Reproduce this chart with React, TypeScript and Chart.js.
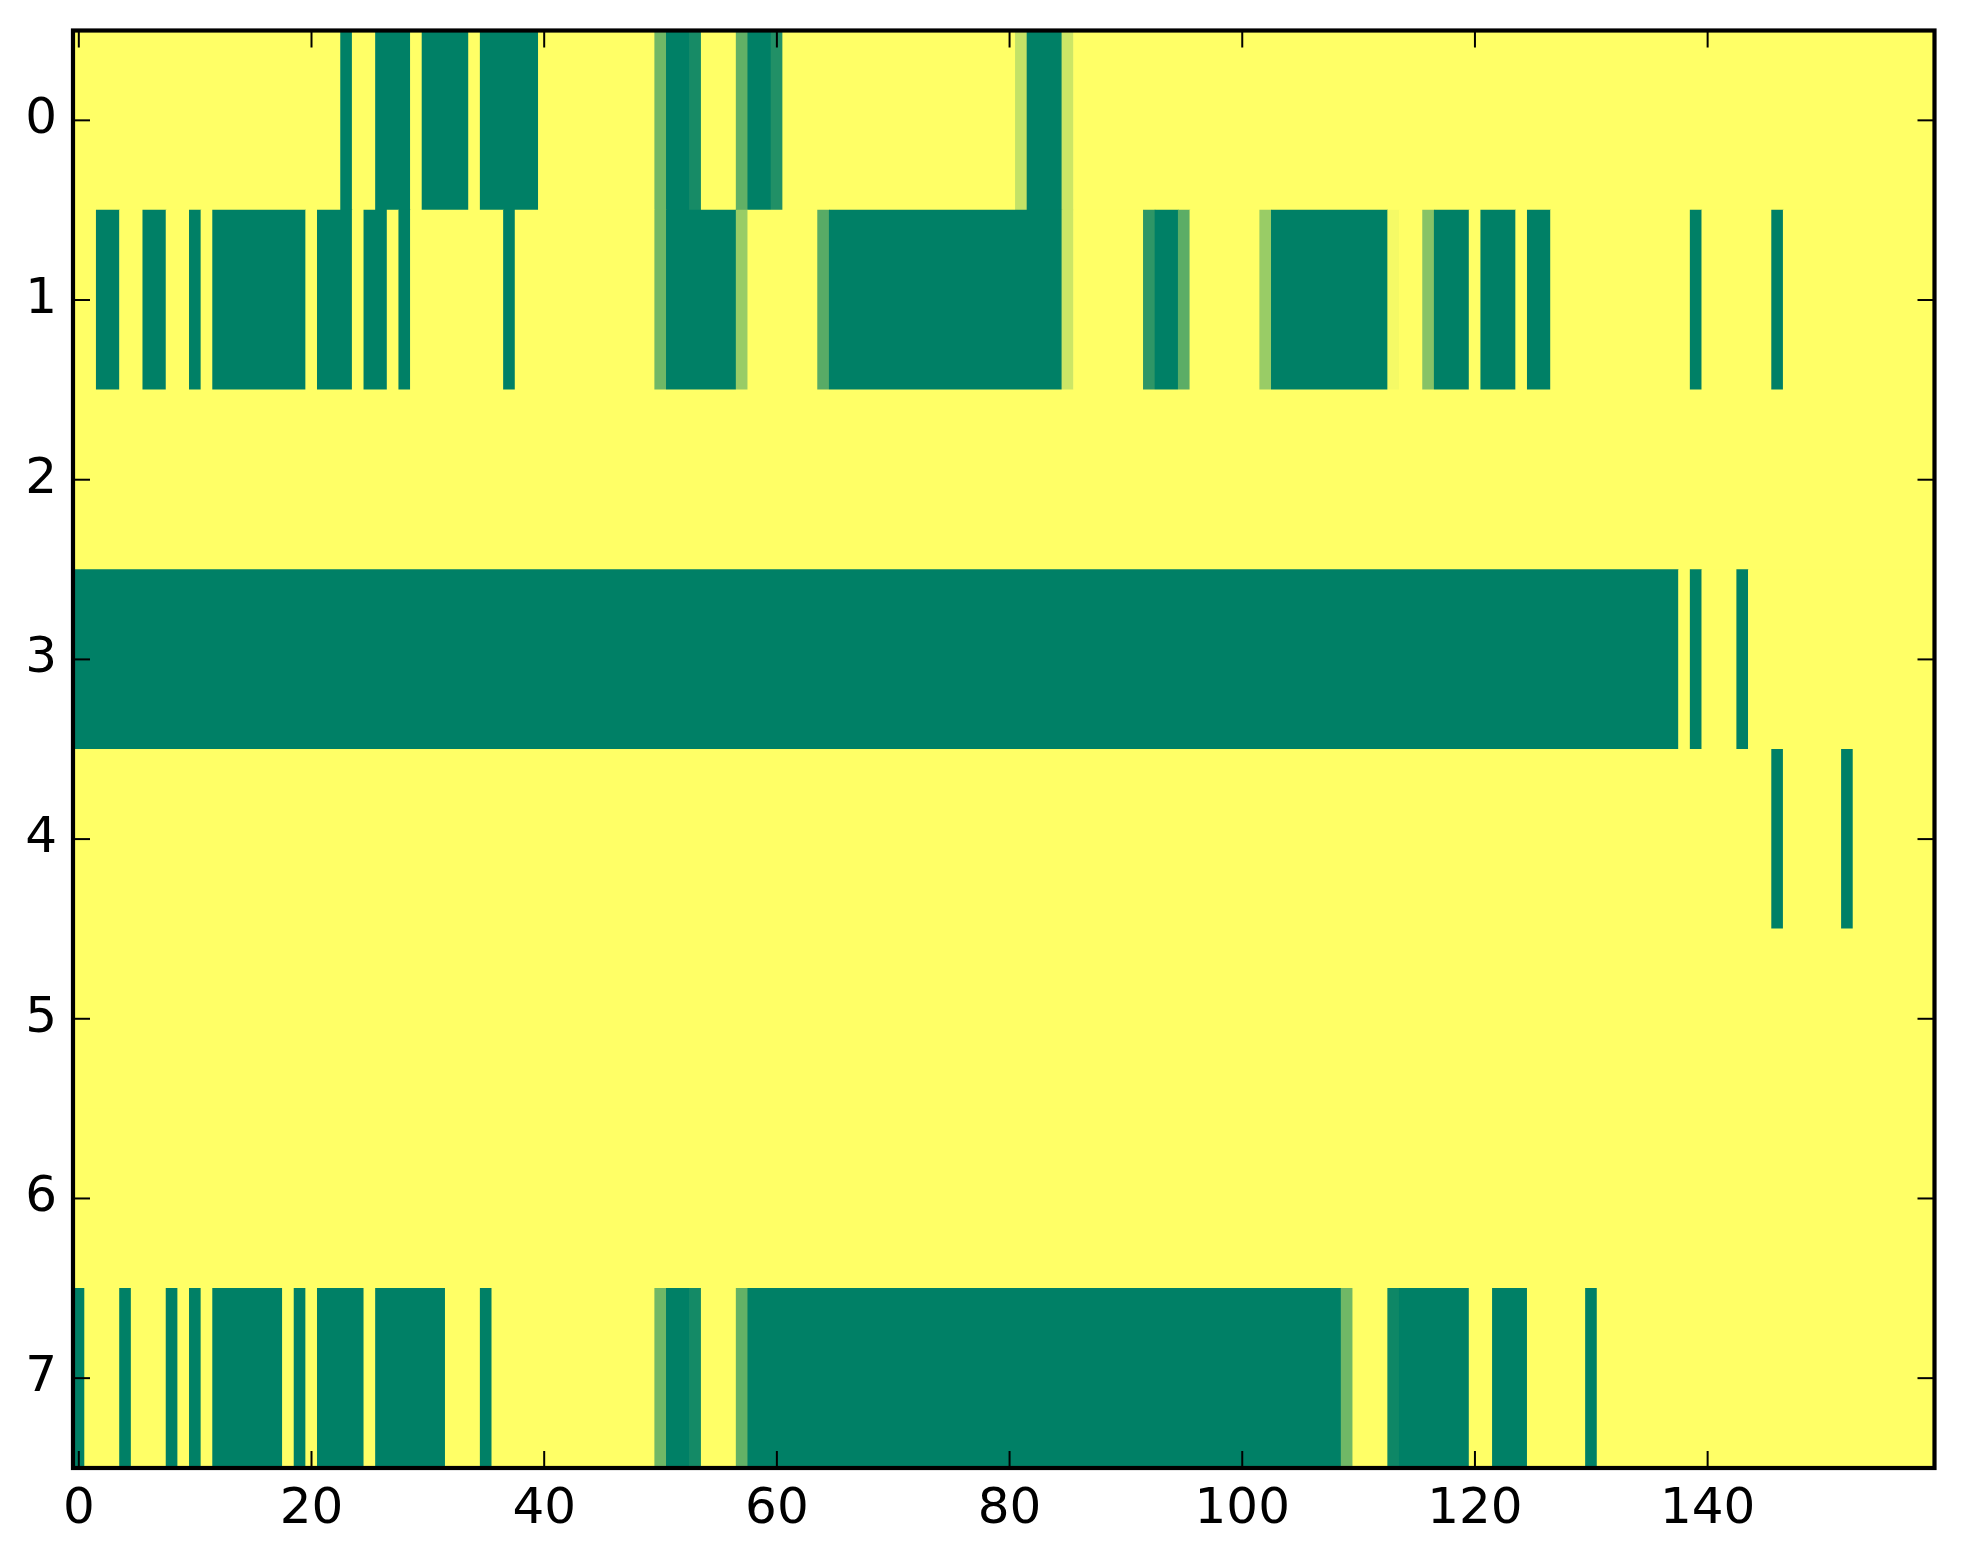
import { useEffect, useRef } from 'react';
import { Chart, registerables } from 'chart.js';

Chart.register(...registerables);

// Row labels (y axis, top to bottom) and x tick values
const rowLabels = ['0', '1', '2', '3', '4', '5', '6', '7'];
const xTickValues = [0, 20, 40, 60, 80, 100, 120, 140];
const columnCount = 160;

// Each row as runs of [number of columns, value] (value 0 = green, 1 = yellow, "summer" colormap)
const row0Runs: [number, number][] = [
  [23, 1], [1, 0], [2, 1], [3, 0], [1, 1], [4, 0], [1, 1], [5, 0], [10, 1],
  [1, 0.44], [2, 0], [1, 0.09], [3, 1], [1, 0.38], [2, 0], [1, 0.13], [20, 1],
  [1, 0.77], [3, 0], [1, 0.8], [74, 1],
];
const row1Runs: [number, number][] = [
  [2, 1], [2, 0], [2, 1], [2, 0], [2, 1], [1, 0], [1, 1], [8, 0], [1, 1], [3, 0],
  [1, 1], [2, 0], [1, 1], [1, 0], [8, 1], [1, 0], [12, 1], [1, 0.44], [6, 0],
  [1, 0.6], [6, 1], [1, 0.345], [20, 0], [1, 0.8], [6, 1], [1, 0.18], [2, 0],
  [1, 0.36], [6, 1], [1, 0.6], [10, 0], [1, 0.96], [2, 1], [1, 0.53], [3, 0],
  [1, 1], [3, 0], [1, 1], [2, 0], [12, 1], [1, 0], [6, 1], [1, 0], [13, 1],
];
const row2Runs: [number, number][] = [[160, 1]];
const row3Runs: [number, number][] = [[138, 0], [1, 1], [1, 0], [3, 1], [1, 0], [16, 1]];
const row4Runs: [number, number][] = [[146, 1], [1, 0], [5, 1], [1, 0], [7, 1]];
const row5Runs: [number, number][] = [[160, 1]];
const row6Runs: [number, number][] = [[160, 1]];
const row7Runs: [number, number][] = [
  [1, 0], [3, 1], [1, 0], [3, 1], [1, 0], [1, 1], [1, 0], [1, 1], [6, 0], [1, 1],
  [1, 0], [1, 1], [4, 0], [1, 1], [6, 0], [3, 1], [1, 0], [14, 1], [1, 0.44],
  [2, 0], [1, 0.08], [3, 1], [1, 0.39], [51, 0], [1, 0.44], [3, 1], [1, 0.055],
  [6, 0], [2, 1], [3, 0], [5, 1], [1, 0], [29, 1],
];
const rowRuns = [row0Runs, row1Runs, row2Runs, row3Runs, row4Runs, row5Runs, row6Runs, row7Runs];

function summer(t: number): string {
  const r = Math.round(255 * t);
  const g = Math.round(127.5 + 127.5 * t);
  return `rgb(${r}, ${g}, 102)`;
}

const framePlugin = {
  id: 'mplFrame',
  afterDatasetsDraw(chart: any) {
    const { ctx, chartArea: a, scales } = chart;
    const L = 17;
    ctx.save();
    ctx.strokeStyle = '#000';
    ctx.lineWidth = 2;
    const line = (x1: number, y1: number, x2: number, y2: number) => {
      ctx.beginPath();
      ctx.moveTo(x1, y1);
      ctx.lineTo(x2, y2);
      ctx.stroke();
    };
    scales.x.ticks.forEach((_t: any, i: number) => {
      const px = scales.x.getPixelForTick(i);
      line(px, a.bottom, px, a.bottom - L);
      line(px, a.top, px, a.top + L);
    });
    scales.y.ticks.forEach((_t: any, i: number) => {
      const py = scales.y.getPixelForTick(i);
      line(a.left, py, a.left + L, py);
      line(a.right, py, a.right - L, py);
    });
    ctx.lineWidth = 4.2;
    ctx.strokeRect(a.left, a.top, a.right - a.left, a.bottom - a.top);
    ctx.restore();
  },
};

export default function App() {
  const canvasRef = useRef<HTMLCanvasElement | null>(null);

  useEffect(() => {
    document.body.style.margin = '0';
    document.body.style.overflow = 'hidden';
    const canvas = canvasRef.current;
    if (!canvas) return;

    const data: { x: [number, number]; y: string }[] = [];
    const colors: string[] = [];
    rowRuns.forEach((runs, r) => {
      let c = 0;
      runs.forEach(([len, val]) => {
        data.push({ x: [c - 0.5, c + len - 0.5], y: rowLabels[r] });
        colors.push(summer(val));
        c += len;
      });
    });

    const xFont = { family: "'DejaVu Sans', sans-serif", size: 50 };
    const yFont = { family: "'DejaVu Sans', sans-serif", size: 50, lineHeight: 0.1 };

    const chart = new Chart(canvas, {
      type: 'bar',
      data: {
        labels: rowLabels,
        datasets: [
          {
            data: data as any,
            backgroundColor: colors,
            borderWidth: 0,
            barPercentage: 1,
            categoryPercentage: 1,
          },
        ],
      },
      options: {
        indexAxis: 'y',
        animation: false,
        responsive: false,
        devicePixelRatio: 1,
        layout: { padding: { left: 0, right: 28.5, top: 30.5, bottom: 0 } },
        plugins: { legend: { display: false }, tooltip: { enabled: false } },
        scales: {
          x: {
            type: 'linear',
            position: 'bottom',
            min: -0.5,
            max: columnCount - 0.5,
            grid: { display: false, drawTicks: false },
            border: { display: false },
            ticks: { font: xFont, color: '#000', padding: 12, autoSkip: false, maxRotation: 0 },
            afterBuildTicks: (s: any) => {
              s.ticks = xTickValues.map((v) => ({ value: v }));
            },
            afterFit: (s: any) => {
              s.height = 96;
            },
          },
          y: {
            type: 'category',
            labels: rowLabels,
            offset: true,
            grid: { display: false, drawTicks: false },
            border: { display: false },
            ticks: { font: yFont, color: '#000', padding: 16 },
            afterFit: (s: any) => {
              s.width = 73;
            },
          },
        },
      },
      plugins: [framePlugin],
    });

    return () => chart.destroy();
  }, []);

  return (
    <div style={{ width: 1963, height: 1564, background: '#fff' }}>
      <canvas ref={canvasRef} width={1963} height={1564} />
    </div>
  );
}
